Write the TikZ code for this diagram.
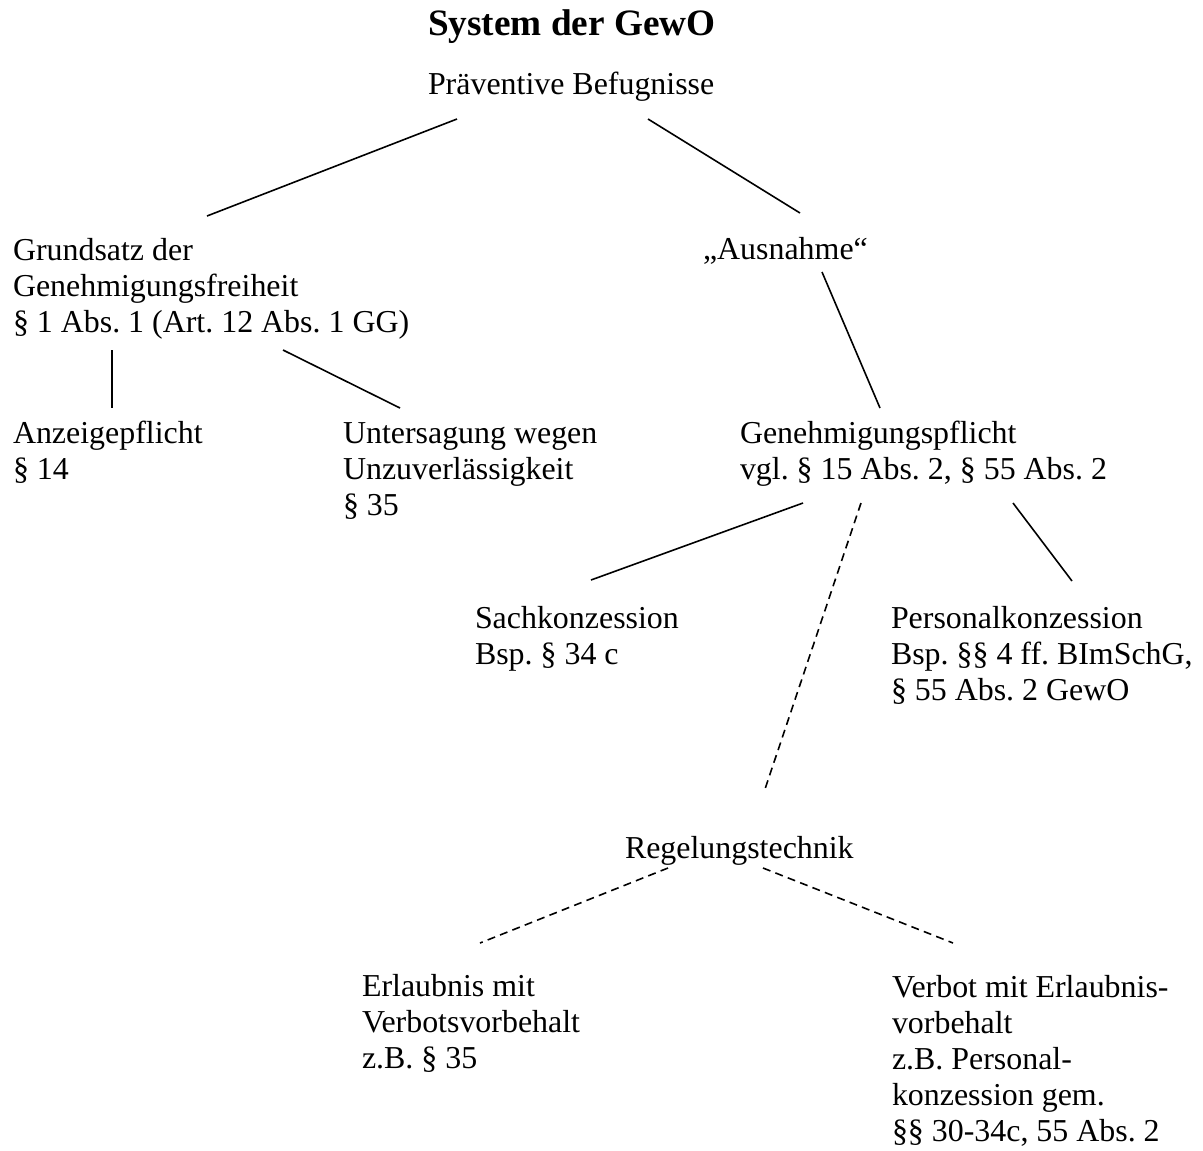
\documentclass[tikz,border=0pt]{standalone}
\usepackage{fontspec}
\setmainfont[Ligatures=CommonOff]{Liberation Serif}
\frenchspacing
% use the font's own interword space inside the labels
\newcommand{\fontspaces}{\spaceskip=0pt\xspaceskip=0pt\relax}
\begin{document}
\begin{tikzpicture}[x=0.376pt, y=-0.376pt,
  label text/.style={anchor=base west, inner sep=0pt, outer sep=0pt,
    text width=9cm, align=flush left,
    font=\fontsize{12}{13.54}\selectfont\frenchspacing,
    execute at begin node=\fontspaces},
  tree line/.style={line width=0.6pt},
  tree dash/.style={line width=0.6pt, dash pattern=on 3pt off 2pt}]
\useasboundingbox (0,0) rectangle (1203,1151);

% headings
\node[label text, font=\fontsize{14}{16}\selectfont\bfseries\frenchspacing] (title) at (428,35) {System der GewO};
\node[label text] (pb) at (428,94) {Präventive Befugnisse};

% second level
\node[label text] (gs) at (13,260) {Grundsatz der\\Genehmigungsfreiheit\\§ 1 Abs. 1 (Art. 12 Abs. 1 GG)};
\node[label text] (aus) at (703,259) {„Ausnahme“};

% third level
\node[label text] (anz) at (13,443) {Anzeigepflicht\\§ 14};
\node[label text] (unt) at (343,443) {Untersagung wegen\\Unzuverlässigkeit\\§ 35};
\node[label text] (gp) at (740,443) {Genehmigungspflicht\\vgl. § 15 Abs. 2, § 55 Abs. 2};

% kinds of licence
\node[label text] (sach) at (475,628) {Sachkonzession\\Bsp. § 34 c};
\node[label text] (pers) at (891,628) {Personalkonzession\\Bsp. §§ 4 ff. BImSchG,\\§ 55 Abs. 2 GewO};

% regulatory technique
\node[label text] (reg) at (625,858) {Regelungstechnik};
\node[label text] (erl) at (362,996) {Erlaubnis mit\\Verbotsvorbehalt\\z.B. § 35};
\node[label text] (verb) at (892,997) {Verbot mit Erlaubnis-\\vorbehalt\\z.B. Personal-\\konzession gem.\\§§ 30-34c, 55 Abs. 2};

% connector end points
\coordinate (pb-l) at (457,119);
\coordinate (pb-r) at (648,119);
\coordinate (gs-t) at (207,216);
\coordinate (aus-t) at (800,213);
\coordinate (gs-bl) at (112,350);
\coordinate (gs-br) at (283,350);
\coordinate (anz-t) at (112,408);
\coordinate (unt-t) at (400,408);
\coordinate (aus-b) at (822,272);
\coordinate (gp-t) at (880,408);
\coordinate (gp-bl) at (803,503);
\coordinate (gp-bm) at (861,503);
\coordinate (gp-br) at (1013,503);
\coordinate (sach-t) at (591,580);
\coordinate (pers-t) at (1072,581);
\coordinate (reg-t) at (765,789);
\coordinate (reg-bl) at (668,868);
\coordinate (reg-br) at (763,868);
\coordinate (erl-t) at (480,943);
\coordinate (verb-t) at (953,943);

% connectors
\draw[tree line] (pb-l) -- (gs-t);
\draw[tree line] (pb-r) -- (aus-t);
\draw[tree line] (gs-bl) -- (anz-t);
\draw[tree line] (gs-br) -- (unt-t);
\draw[tree line] (aus-b) -- (gp-t);
\draw[tree line] (gp-bl) -- (sach-t);
\draw[tree line] (gp-br) -- (pers-t);
\draw[tree dash] (gp-bm) -- (reg-t);
\draw[tree dash] (reg-bl) -- (erl-t);
\draw[tree dash] (reg-br) -- (verb-t);
\end{tikzpicture}
\end{document}
